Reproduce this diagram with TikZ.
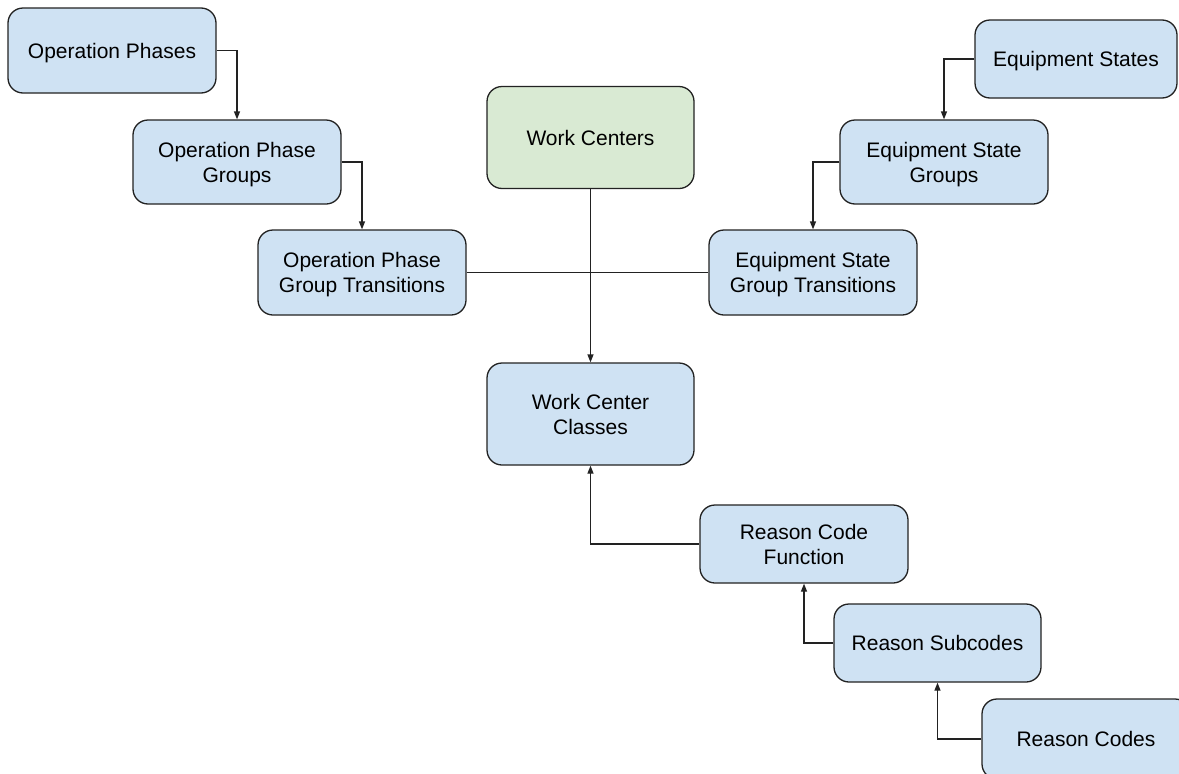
\documentclass[tikz,border=0pt]{standalone}
\usepackage{fontspec}
\setmainfont{Liberation Sans}
\usetikzlibrary{arrows.meta}
\definecolor{boxblue}{HTML}{CFE2F3}
\definecolor{boxgreen}{HTML}{D9EAD3}
\definecolor{edge}{HTML}{222222}
\begin{document}
\begin{tikzpicture}[x=1pt,y=-1pt,
  box/.style={draw=edge, line width=1.3pt, fill=boxblue, rounded corners=15pt,
    minimum width=208pt, minimum height=85pt, align=center, inner sep=0pt,
    text depth=0pt, font=\fontsize{21}{25}\selectfont},
  link/.style={draw=edge, line width=1.3pt},
  arr/.style={link, -{Triangle[length=8pt,width=6pt]}}]
\useasboundingbox (0,0) rectangle (1179,774);
\begin{scope}
\clip (0,0) rectangle (1179,774);
\node[box] (op) at (112,50.5) {Operation Phases};
\node[box, minimum height=84pt] (opg) at (237,162) {Operation Phase\\Groups};
\node[box] (opgt) at (362,272.5) {Operation Phase\\Group Transitions};
\node[box, fill=boxgreen, minimum width=207pt, minimum height=102pt] (wc) at (590.5,137.5) {Work Centers};
\node[box, minimum width=202pt, minimum height=78pt] (es) at (1076,59) {Equipment States};
\node[box, minimum height=84pt] (esg) at (944,162) {Equipment State\\Groups};
\node[box] (esgt) at (813,272.5) {Equipment State\\Group Transitions};
\node[box, minimum width=207pt, minimum height=102pt] (wcc) at (590.5,414) {Work Center\\Classes};
\node[box, minimum height=78pt] (rcf) at (804,544) {Reason Code\\Function};
\node[box, minimum width=207pt, minimum height=78pt] (rs) at (937.5,643) {Reason Subcodes};
\node[box, minimum height=80pt] (rc) at (1086,739) {Reason Codes};
\end{scope}
\draw[arr] (op.east) -| (opg.north);
\draw[arr] (opg.east) -| (opgt.north);
\draw[arr] (wc.south) -- (wcc.north);
\draw[link] (opgt.east) -- (esgt.west);
\draw[arr] (es.west) -| (esg.north);
\draw[arr] (esg.west) -| (esgt.north);
\draw[arr] (rcf.west) -| (wcc.south);
\draw[arr] (rs.west) -| (rcf.south);
\draw[arr] (rc.west) -| (rs.south);
\end{tikzpicture}
\end{document}
